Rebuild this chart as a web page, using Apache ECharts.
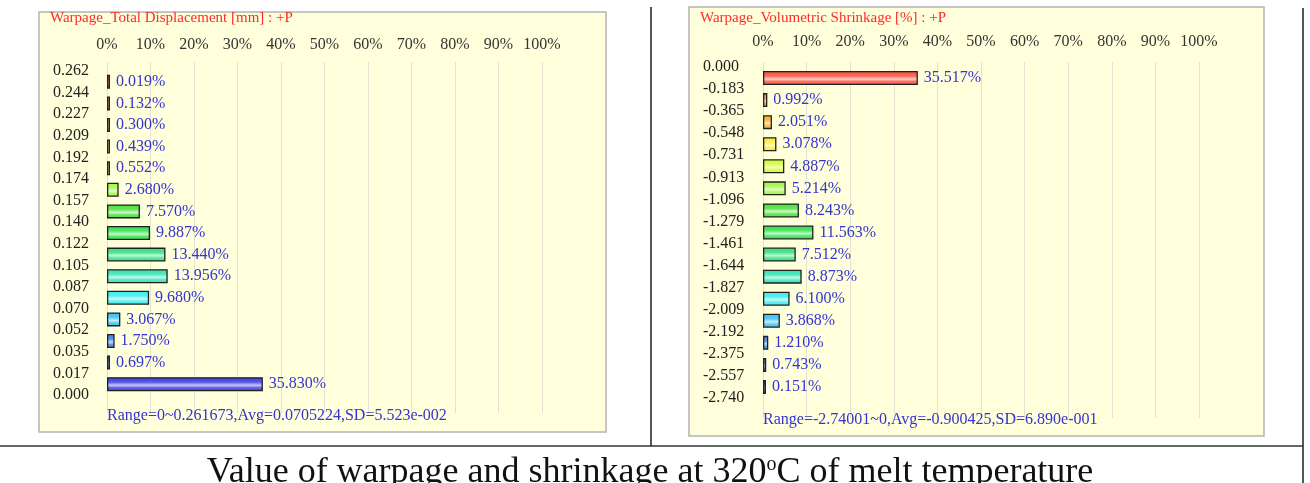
<!DOCTYPE html>
<html>
<head>
<meta charset="utf-8">
<script src="https://cdn.jsdelivr.net/npm/echarts@6/dist/echarts.min.js"></script>
<style>
  html, body { margin: 0; padding: 0; background: #fff; }
  #chart { width: 1310px; height: 483px; }
</style>
</head>
<body>
<div id="chart"></div>
<script>
// tick labels of the percentage axis
var pctTicks = [0, 10, 20, 30, 40, 50, 60, 70, 80, 90, 100];

// left plot: total displacement [mm], bin edges top -> bottom
var dispEdges = ['0.262', '0.244', '0.227', '0.209', '0.192', '0.174', '0.157', '0.140',
  '0.122', '0.105', '0.087', '0.070', '0.052', '0.035', '0.017', '0.000'];
var dispPct = [0.019, 0.132, 0.300, 0.439, 0.552, 2.680, 7.570, 9.887,
  13.440, 13.956, 9.680, 3.067, 1.750, 0.697, 35.830];

// right plot: volumetric shrinkage [%], bin edges top -> bottom
var shrinkEdges = ['0.000', '-0.183', '-0.365', '-0.548', '-0.731', '-0.913', '-1.096', '-1.279',
  '-1.461', '-1.644', '-1.827', '-2.009', '-2.192', '-2.375', '-2.557', '-2.740'];
var shrinkPct = [35.517, 0.992, 2.051, 3.078, 4.887, 5.214, 8.243, 11.563,
  7.512, 8.873, 6.100, 3.868, 1.210, 0.743, 0.151];

var dispTitle = 'Warpage_Total Displacement [mm] : +P';
var dispStats = 'Range=0~0.261673,Avg=0.0705224,SD=5.523e-002';
var shrinkTitle = 'Warpage_Volumetric Shrinkage [%] : +P';
var shrinkStats = 'Range=-2.74001~0,Avg=-0.900425,SD=6.890e-001';

// colour scale, red (top bin) to blue (bottom bin)
var spectrum = ['#f8503c', '#ff8420', '#ffb020', '#ffec30', '#d4fc30', '#a0f840', '#48e038',
  '#30e048', '#30e080', '#30e4b0', '#38ecec', '#38c0f4', '#3a80e0', '#3a5ae8', '#3c3ce0'];

var serif = 'Liberation Serif';

function binsOf(edges) {
  var out = [];
  for (var i = 0; i < edges.length - 1; i++) out.push(edges[i + 1] + '~' + edges[i]);
  return out;
}

function lighten(hex, k) {
  var n = parseInt(hex.slice(1), 16);
  var r = (n >> 16) & 255, g = (n >> 8) & 255, b = n & 255;
  r = Math.round(r + (255 - r) * k);
  g = Math.round(g + (255 - g) * k);
  b = Math.round(b + (255 - b) * k);
  return 'rgb(' + r + ',' + g + ',' + b + ')';
}

function barData(values) {
  return values.map(function (v, i) {
    var c = spectrum[i];
    return {
      value: v,
      itemStyle: {
        color: new echarts.graphic.LinearGradient(0, 0, 0, 1, [
          { offset: 0, color: c },
          { offset: 0.35, color: lighten(c, 0.15) },
          { offset: 0.58, color: lighten(c, 0.72) },
          { offset: 0.75, color: lighten(c, 0.2) },
          { offset: 1, color: c }
        ])
      }
    };
  });
}

// one histogram panel = outer grid (grid lines + % labels) and inner grid (bars + bin edge labels)
function panel(opt, p) {
  var gi = opt.grid.length;
  opt.grid.push({ left: p.left, width: p.width, top: p.gridTop, height: p.gridH, outerBoundsMode: 'none' });
  opt.grid.push({ left: p.left, width: p.width, top: p.binTop, height: p.binH, outerBoundsMode: 'none' });

  var xi = opt.xAxis.length;
  opt.xAxis.push({
    gridIndex: gi, type: 'value', position: 'top', min: 0, max: 100, interval: 10,
    axisLine: { show: false }, axisTick: { show: false },
    axisLabel: { margin: p.pctMargin, color: '#333', fontFamily: serif, fontSize: 16,
      formatter: function (v) { return pctTicks.indexOf(v) >= 0 ? v + '%' : ''; } },
    splitLine: { lineStyle: { color: '#e2e2d2', width: 1 } }
  });
  opt.xAxis.push({ gridIndex: gi + 1, type: 'value', min: 0, max: 100, show: false });

  var yi = opt.yAxis.length;
  opt.yAxis.push({ gridIndex: gi, type: 'value', min: 0, max: 1, show: false });
  opt.yAxis.push({ gridIndex: gi + 1, type: 'category', position: 'left', data: binsOf(p.edges), inverse: true, show: false });
  opt.yAxis.push({
    gridIndex: gi + 1, type: 'category', position: 'left', data: p.edges, inverse: true, boundaryGap: false,
    axisLine: { show: false }, axisTick: { show: false }, splitLine: { show: false },
    axisLabel: { interval: 0, align: 'left', margin: p.edgeMargin, color: '#222', fontFamily: serif, fontSize: 16 }
  });

  opt.series.push({
    type: 'bar', xAxisIndex: xi + 1, yAxisIndex: yi + 1,
    data: barData(p.values), barWidth: 14, barMinHeight: 3,
    itemStyle: { borderColor: '#202020', borderWidth: 1.3 },
    label: {
      show: true, position: 'right', distance: 6, color: '#3434d0', fontFamily: serif, fontSize: 16,
      formatter: function (q) { return q.value.toFixed(3) + '%'; }
    }
  });

  opt.title.push({ text: p.title, left: p.titleX, top: p.titleY, padding: 0,
    textStyle: { color: '#ff2a2a', fontFamily: serif, fontSize: 15, fontWeight: 'normal' } });
  opt.title.push({ text: p.stats, left: p.left, top: p.statsY, padding: 0,
    textStyle: { color: '#3434d0', fontFamily: serif, fontSize: 16, fontWeight: 'normal' } });
}

var option = {
  animation: false,
  backgroundColor: '#ffffff',
  title: [], grid: [], xAxis: [], yAxis: [], series: [],
  graphic: [
    { type: 'rect', z: -10, shape: { x: 39, y: 12, width: 567, height: 420 },
      style: { fill: '#ffffdc', stroke: '#b4b4b4', lineWidth: 1.5 } },
    { type: 'rect', z: -10, shape: { x: 689, y: 7, width: 575, height: 429 },
      style: { fill: '#ffffdc', stroke: '#b4b4b4', lineWidth: 1.5 } },
    { type: 'line', z: -10, shape: { x1: 651, y1: 7, x2: 651, y2: 446 },
      style: { stroke: '#555', lineWidth: 2 } },
    { type: 'line', z: -10, shape: { x1: 1303, y1: 8, x2: 1303, y2: 483 },
      style: { stroke: '#555', lineWidth: 2 } },
    { type: 'line', z: -10, shape: { x1: 0, y1: 446, x2: 1303, y2: 446 },
      style: { stroke: '#333', lineWidth: 1.5 } },
    { type: 'text', z: 10, x: 650, y: 473,
      style: {
        text: 'Value of warpage and shrinkage at 320{sup|o}C of melt temperature',
        fill: '#111', font: '36px "Liberation Serif"', align: 'center', verticalAlign: 'middle',
        rich: { sup: { fontSize: 20, fontFamily: 'Liberation Serif', verticalAlign: 'top', fill: '#111' } }
      } }
  ]
};

panel(option, {
  left: 107, width: 435, gridTop: 62, gridH: 351, binTop: 71, binH: 324,
  pctMargin: 9, edgeMargin: 54, edges: dispEdges, values: dispPct,
  title: dispTitle, titleX: 50, titleY: 11, stats: dispStats, statsY: 408
});
panel(option, {
  left: 763, width: 436, gridTop: 62, gridH: 356, binTop: 67, binH: 331,
  pctMargin: 12, edgeMargin: 60, edges: shrinkEdges, values: shrinkPct,
  title: shrinkTitle, titleX: 700, titleY: 11, stats: shrinkStats, statsY: 412
});

var chart = echarts.init(document.getElementById('chart'));
chart.setOption(option);
</script>
</body>
</html>
